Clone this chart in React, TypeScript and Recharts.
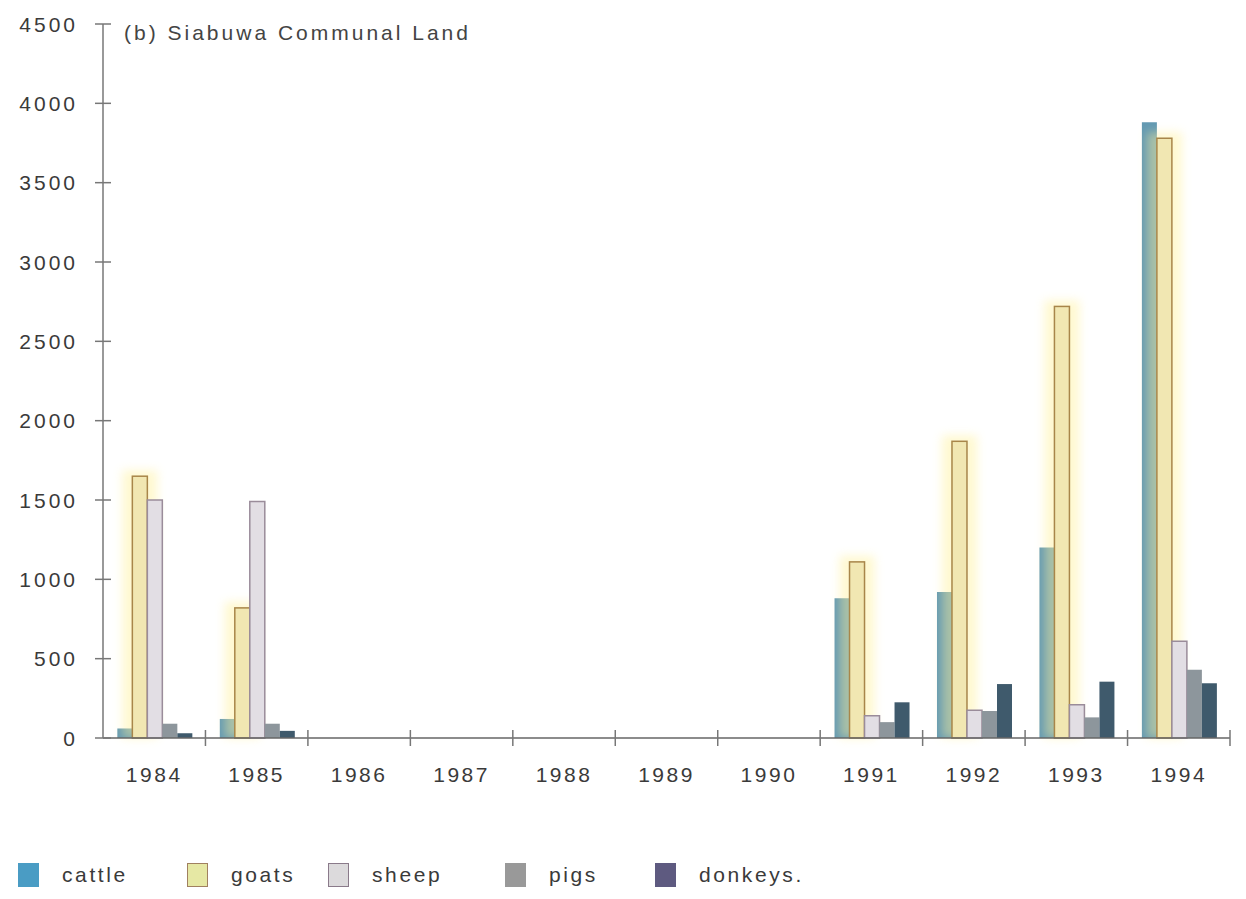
import React from "react";
import { BarChart, Bar, XAxis, YAxis } from "recharts";

// Livestock numbers, Siabuwa Communal Land
const years = ["1984", "1985", "1986", "1987", "1988", "1989", "1990", "1991", "1992", "1993", "1994"];
const cattle = [60, 120, 0, 0, 0, 0, 0, 880, 920, 1200, 3880];
const goats = [1650, 820, 0, 0, 0, 0, 0, 1110, 1870, 2720, 3780];
const sheep = [1500, 1490, 0, 0, 0, 0, 0, 140, 175, 210, 610];
const pigs = [90, 90, 0, 0, 0, 0, 0, 100, 170, 130, 430];
const donkeys = [30, 45, 0, 0, 0, 0, 0, 225, 340, 355, 345];
const yTicks = [0, 500, 1000, 1500, 2000, 2500, 3000, 3500, 4000, 4500];

const data = years.map((year, i) => ({
  year,
  cattle: cattle[i],
  goats: goats[i],
  sheep: sheep[i],
  pigs: pigs[i],
  donkeys: donkeys[i],
}));

const FONT = '"Liberation Sans", Arial, sans-serif';
const TEXT = "#3a3a3a";

const series = [
  { key: "cattle", label: "cattle", fill: "#6399b2", stroke: "none", swatch: "#4a9cc4", swatchBorder: "#4a9cc4" },
  { key: "goats", label: "goats", fill: "#f1e7b2", stroke: "#a8864a", swatch: "#e6e8a4", swatchBorder: "#a08060" },
  { key: "sheep", label: "sheep", fill: "#e2dee4", stroke: "#9a8c9a", swatch: "#dcdadc", swatchBorder: "#8a7a8a" },
  { key: "pigs", label: "pigs", fill: "#8d969c", stroke: "none", swatch: "#999999", swatchBorder: "#999999" },
  { key: "donkeys", label: "donkeys.", fill: "#3f5a6c", stroke: "none", swatch: "#5e5a80", swatchBorder: "#5e5a80" },
];
const legendLeft = [18, 187, 328, 505, 655];

const YTick = (props: any) => {
  const { x, y, payload } = props;
  return (
    <g>
      <line x1={x - 8} x2={x + 8} y1={y} y2={y} stroke="#777" strokeWidth={1.5} />
      <text
        x={x - 25}
        y={y}
        dy="0.36em"
        textAnchor="end"
        fontFamily={FONT}
        fontSize={21}
        letterSpacing={3}
        fill={TEXT}
      >
        {payload.value}
      </text>
    </g>
  );
};

const XTick = (props: any) => {
  const { x, y, payload } = props;
  const half = payload.offset ?? 51;
  return (
    <g>
      <line x1={x + half} x2={x + half} y1={y - 8} y2={y + 8} stroke="#777" strokeWidth={1.5} />
      <text
        x={x}
        y={y + 44}
        textAnchor="middle"
        fontFamily={FONT}
        fontSize={21}
        letterSpacing={2.5}
        fill={TEXT}
      >
        {payload.value}
      </text>
    </g>
  );
};

// goat bars carry a soft yellow halo
const GoatBar = (props: any) => {
  const { x, y, width, height, fill, stroke } = props;
  if (!height || height <= 0) return null;
  return (
    <g>
      <rect
        x={x - 10}
        y={y - 6}
        width={width + 20}
        height={height + 6}
        fill="#fff19a"
        opacity={0.45}
        filter="url(#halo)"
      />
      <rect x={x} y={y} width={width} height={height} fill={fill} stroke={stroke} strokeWidth={1.5} />
    </g>
  );
};

export default function App() {
  return (
    <div
      style={{
        position: "absolute",
        left: 0,
        top: 0,
        width: 1246,
        height: 899,
        background: "#fff",
        fontFamily: FONT,
      }}
    >
      <BarChart
        width={1246}
        height={899}
        data={data}
        margin={{ top: 24, right: 16, left: 0, bottom: 121 }}
        barCategoryGap="14%"
        barGap={0}
      >
        <defs>
          <filter id="halo" x="-50%" y="-10%" width="200%" height="120%">
            <feGaussianBlur stdDeviation="5" />
          </filter>
        </defs>
        <XAxis
          dataKey="year"
          height={40}
          tickSize={0}
          tickMargin={0}
          tickLine={false}
          axisLine={{ stroke: "#666", strokeWidth: 1.5 }}
          tick={<XTick />}
          interval={0}
        />
        <YAxis
          width={103}
          domain={[0, 4500]}
          ticks={yTicks}
          tickSize={0}
          tickMargin={0}
          tickLine={false}
          axisLine={{ stroke: "#777", strokeWidth: 1.5 }}
          tick={<YTick />}
          interval={0}
        />
        {series.map((s) => (
          <Bar
            key={s.key}
            dataKey={s.key}
            fill={s.fill}
            stroke={s.stroke}
            strokeWidth={1.5}
            isAnimationActive={false}
            shape={s.key === "goats" ? <GoatBar /> : undefined}
          />
        ))}
        <text x={124} y={40} fontFamily={FONT} fontSize={21} letterSpacing={3} fill="#444">
          (b) Siabuwa Communal Land
        </text>
      </BarChart>
      {series.map((s, i) => (
        <div
          key={s.key}
          style={{
            position: "absolute",
            left: legendLeft[i],
            top: 863,
            display: "flex",
            alignItems: "center",
            gap: 23,
            fontSize: 21,
            letterSpacing: 2.6,
            color: TEXT,
          }}
        >
          <span
            style={{
              display: "inline-block",
              width: 21,
              height: 24,
              background: s.swatch,
              border: `1.5px solid ${s.swatchBorder}`,
              boxSizing: "border-box",
            }}
          />
          <span>{s.label}</span>
        </div>
      ))}
    </div>
  );
}
